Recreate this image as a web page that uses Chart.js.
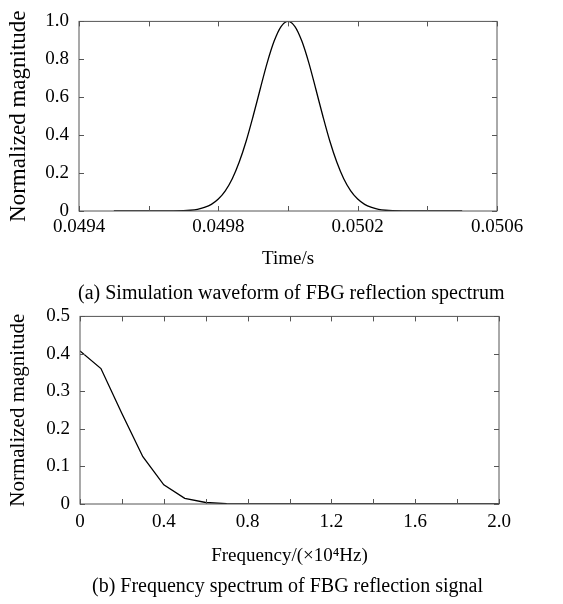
<!DOCTYPE html>
<html>
<head>
<meta charset="utf-8">
<script src="https://cdn.jsdelivr.net/npm/chart.js@4.4.1/dist/chart.umd.min.js"></script>
<style>
  body { margin: 0; background: #fff; }
  #wrap { position: relative; width: 563px; height: 604px; }
  canvas { position: absolute; left: 0; }
  .cap { position: absolute; font-family: "Liberation Serif", serif; font-size: 20px; line-height: 22px; color: #000; white-space: nowrap; }
</style>
</head>
<body>
<div id="wrap">
  <canvas id="waveChart" width="563" height="285" style="top:0"></canvas>
  <canvas id="specChart" width="563" height="285" style="top:295px"></canvas>
  <div class="cap" style="left:78px; top:281px">(a) Simulation waveform of FBG reflection spectrum</div>
  <div class="cap" style="left:92px; top:574px">(b) Frequency spectrum of FBG reflection signal</div>
</div>
<script>
// (a) time domain waveform
const times = [0.0495, 0.0497, 0.04972, 0.04974, 0.04976, 0.04978, 0.0498, 0.04982, 0.04984, 0.04986,
  0.04988, 0.0499, 0.04992, 0.04994, 0.04996, 0.04998, 0.05, 0.05002, 0.05004, 0.05006, 0.05008,
  0.0501, 0.05012, 0.05014, 0.05016, 0.05018, 0.0502, 0.05022, 0.05024, 0.05026, 0.05028, 0.0503, 0.0505];
const waveMag = [0, 0.002, 0.004, 0.009, 0.019, 0.035, 0.063, 0.106, 0.170, 0.258,
  0.369, 0.501, 0.642, 0.780, 0.895, 0.973, 1.000, 0.973, 0.895, 0.780, 0.642,
  0.501, 0.369, 0.258, 0.170, 0.106, 0.063, 0.035, 0.019, 0.009, 0.004, 0.002, 0];
const timeTickLabels = ['0.0494', '0.0498', '0.0502', '0.0506'];
const waveYTickLabels = ['0', '0.2', '0.4', '0.6', '0.8', '1.0'];

// (b) frequency spectrum
const freqs = [0, 0.1, 0.2, 0.3, 0.4, 0.5, 0.6, 0.7, 0.8, 0.9, 1.0,
  1.1, 1.2, 1.3, 1.4, 1.5, 1.6, 1.7, 1.8, 1.9, 2.0];
const specMag = [0.408, 0.361, 0.241, 0.126, 0.051, 0.015, 0.004, 0.001, 0, 0, 0,
  0, 0, 0, 0, 0, 0, 0, 0, 0, 0];
const freqTickLabels = ['0', '0.4', '0.8', '1.2', '1.6', '2.0'];
const specYTickLabels = ['0', '0.1', '0.2', '0.3', '0.4', '0.5'];

const font = { family: 'Liberation Serif', size: 19 };

// box round the plot with short ticks pointing inwards on all four sides
const boxTicks = {
  id: 'boxTicks',
  afterDraw(chart) {
    const { ctx, chartArea: a, scales } = chart;
    const len = 5;
    ctx.save();
    ctx.strokeStyle = '#555';
    ctx.lineWidth = 1;
    ctx.strokeRect(a.left, a.top, a.right - a.left, a.bottom - a.top);
    ctx.beginPath();
    scales.x.ticks.forEach(t => {
      const px = Math.round(scales.x.getPixelForValue(t.value)) + 0.5;
      ctx.moveTo(px, a.bottom); ctx.lineTo(px, a.bottom - len);
      ctx.moveTo(px, a.top); ctx.lineTo(px, a.top + len);
    });
    scales.y.ticks.forEach(t => {
      const py = Math.round(scales.y.getPixelForValue(t.value)) + 0.5;
      ctx.moveTo(a.left, py); ctx.lineTo(a.left + len, py);
      ctx.moveTo(a.right, py); ctx.lineTo(a.right - len, py);
    });
    ctx.stroke();
    ctx.restore();
  }
};

function makeChart(id, xs, ys, opt) {
  return new Chart(document.getElementById(id), {
    type: 'line',
    data: {
      datasets: [{
        data: xs.map((x, i) => ({ x: x, y: ys[i] })),
        borderColor: '#000',
        borderWidth: 1.3,
        pointRadius: 0,
        cubicInterpolationMode: opt.smooth ? 'monotone' : 'default',
        tension: 0,
        fill: false
      }]
    },
    options: {
      responsive: false,
      animation: false,
      layout: { padding: opt.padding },
      plugins: { legend: { display: false }, tooltip: { enabled: false } },
      scales: {
        x: {
          type: 'linear',
          min: opt.xMin, max: opt.xMax,
          afterFit: s => { s.height = opt.xHeight; },
          grid: { display: false, drawTicks: false },
          border: { display: false },
          ticks: {
            stepSize: opt.xStep, autoSkip: false, maxRotation: 0,
            padding: opt.xPad, color: '#000', font: font,
            callback: (v, i) => i % 2 === 0 ? opt.xLabels[i / 2] : ''
          },
          title: { display: true, text: opt.xTitle, color: '#000', font: font, padding: { top: 0, bottom: opt.xTitlePad } }
        },
        y: {
          min: opt.yMin, max: opt.yMax,
          afterFit: s => { s.width = opt.yWidth; },
          grid: { display: false, drawTicks: false },
          border: { display: false },
          ticks: {
            stepSize: opt.yStep, padding: 10, color: '#000', font: font,
            callback: (v, i) => opt.yLabels[i]
          },
          title: {
            display: true, text: 'Normalized magnitude', color: '#000',
            font: { family: 'Liberation Serif', size: opt.yTitleSize },
            padding: { top: opt.yTitlePad, bottom: 0 }
          }
        }
      }
    },
    plugins: [boxTicks]
  });
}

makeChart('waveChart', times, waveMag, {
  smooth: true,
  padding: { top: 16, right: 66, bottom: 0, left: 0 },
  xMin: 0.0494, xMax: 0.0506, xStep: 0.0002, xLabels: timeTickLabels,
  xHeight: 74, xPad: 5, xTitle: 'Time/s', xTitlePad: 15,
  yMin: 0, yMax: 1, yStep: 0.2, yLabels: waveYTickLabels, yWidth: 79,
  yTitleSize: 23, yTitlePad: 5
});

makeChart('specChart', freqs, specMag, {
  smooth: false,
  padding: { top: 14, right: 64, bottom: 0, left: 0 },
  xMin: 0, xMax: 2, xStep: 0.2, xLabels: freqTickLabels,
  xHeight: 76, xPad: 7, xTitle: 'Frequency/(×10⁴Hz)', xTitlePad: 13,
  yMin: 0, yMax: 0.5, yStep: 0.1, yLabels: specYTickLabels, yWidth: 80,
  yTitleSize: 21, yTitlePad: 6
});
</script>
</body>
</html>
